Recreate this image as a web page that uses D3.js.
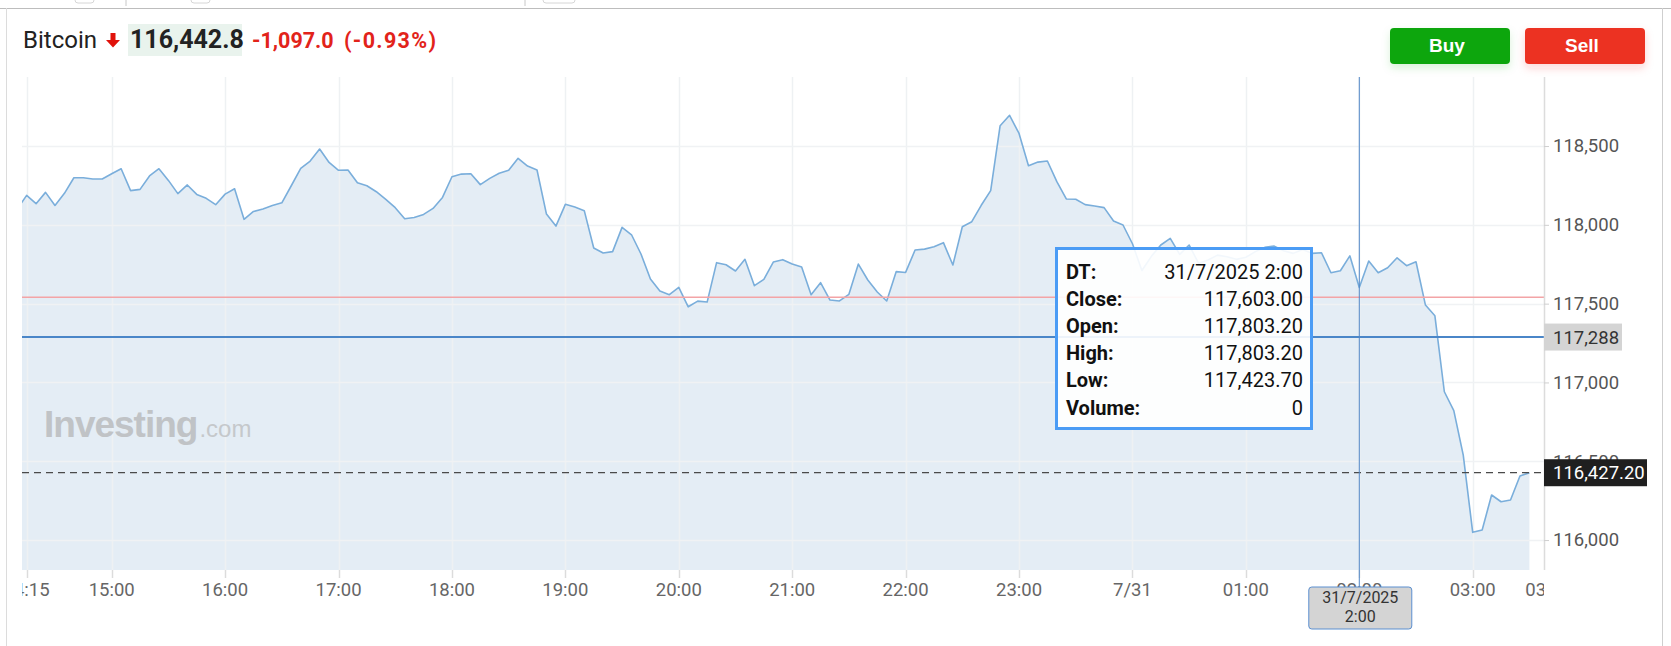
<!DOCTYPE html>
<html><head><meta charset="utf-8">
<script src="https://cdn.jsdelivr.net/npm/d3@7"></script>
<style>
html,body{margin:0;padding:0;background:#fff;overflow:hidden;}
svg{display:block;font-family:Roboto,"Liberation Sans",Arial,sans-serif;}
</style></head><body>
<svg id="chart" width="1671" height="646"></svg>
<script>
// ---------- DATA ----------
const times = [
"14:10","14:15","14:20","14:25","14:30","14:35","14:40","14:45","14:50","14:55",
"15:00","15:05","15:10","15:15","15:20","15:25","15:30","15:35","15:40","15:45","15:50","15:55",
"16:00","16:05","16:10","16:15","16:20","16:25","16:30","16:35","16:40","16:45","16:50","16:55",
"17:00","17:05","17:10","17:15","17:20","17:25","17:30","17:35","17:40","17:45","17:50","17:55",
"18:00","18:05","18:10","18:15","18:20","18:25","18:30","18:35","18:40","18:45","18:50","18:55",
"19:00","19:05","19:10","19:15","19:20","19:25","19:30","19:35","19:40","19:45","19:50","19:55",
"20:00","20:05","20:10","20:15","20:20","20:25","20:30","20:35","20:40","20:45","20:50","20:55",
"21:00","21:05","21:10","21:15","21:20","21:25","21:30","21:35","21:40","21:45","21:50","21:55",
"22:00","22:05","22:10","22:15","22:20","22:25","22:30","22:35","22:40","22:45","22:50","22:55",
"23:00","23:05","23:10","23:15","23:20","23:25","23:30","23:35","23:40","23:45","23:50","23:55",
"00:00","00:05","00:10","00:15","00:20","00:25","00:30","00:35","00:40","00:45","00:50","00:55",
"01:00","01:05","01:10","01:15","01:20","01:25","01:30","01:35","01:40","01:45","01:50","01:55",
"02:00","02:05","02:10","02:15","02:20","02:25","02:30","02:35","02:40","02:45","02:50","02:55",
"03:00","03:05","03:10","03:15","03:20","03:25","03:30"];
const closes = [
118100,118187,118134,118206,118123,118200,118299,118299,118291,118291,
118324,118356,118217,118225,118310,118356,118282,118198,118253,118193,118168,118128,
118195,118229,118035,118085,118100,118123,118140,118248,118358,118405,118481,118396,
118346,118348,118267,118248,118210,118162,118109,118039,118047,118066,118104,118174,
118305,118322,118324,118255,118295,118327,118346,118422,118373,118348,118068,117992,
118130,118113,118090,117853,117821,117830,117984,117937,117815,117656,117580,117557,
117603,117480,117516,117510,117760,117747,117707,117781,117614,117654,117764,117779,
117751,117732,117557,117633,117523,117517,117559,117751,117650,117574,117517,117703,
117698,117840,117846,117861,117887,117745,117988,118020,118124,118217,118629,118695,
118580,118375,118398,118405,118274,118164,118162,118128,118119,118109,118024,117999,
117880,117710,117800,117872,117914,117813,117872,117756,117777,117808,117798,117781,
117794,117830,117857,117865,117836,117819,117844,117819,117823,117696,117709,117803.2,
117603,117770,117696,117728,117791,117741,117766,117491,117423,116941,116821,116539,
116049,116064,116286,116243,116254,116406,116427.2];
const xTickTimes  = ["14:15","15:00","16:00","17:00","18:00","19:00","20:00","21:00","22:00","23:00","00:00","01:00","02:00","03:00","03:40"];
const xTickLabels = ["14:15","15:00","16:00","17:00","18:00","19:00","20:00","21:00","22:00","23:00","7/31","01:00","02:00","03:00","03:40"];
const xDomain = ["14:12:33","03:37:43"];
const yDomain = [115810, 118938];
const yTicks = [116000,116500,117000,117500,118000,118500];
const prevClose = 117539.8;
const levelLine = 117288;
const lastPrice = 116427.20;
const hoverTime = "02:00";
const hoverLabel = ["31/7/2025","2:00"];
const tooltipLabels = ["DT:","Close:","Open:","High:","Low:","Volume:"];
const tooltipValues = ["31/7/2025 2:00","117,603.00","117,803.20","117,803.20","117,423.70","0"];
const title = {name:"Bitcoin", price:"116,442.8", change:"-1,097.0", pct:"(-0.93%)"};

// ---------- HELPERS ----------
function parseT(s){
  const p = s.split(":").map(Number);
  const day = p[0] < 12 ? 31 : 30;
  return new Date(2025, 6, day, p[0], p[1], p[2] || 0);
}
const data = times.map((t,i)=>({t:parseT(t), v:closes[i]}));
const fmt = d3.format(",");

const L = 22, R = 1544, T = 77, B = 570;
const x = d3.scaleTime().domain(xDomain.map(parseT)).range([L, R]);
const y = d3.scaleLinear().domain(yDomain).range([B, T]);

const svg = d3.select("#chart");
const defs = svg.append("defs");
defs.append("clipPath").attr("id","plotClip").append("rect")
  .attr("x",L).attr("y",T).attr("width",R-L).attr("height",B-T);
defs.append("clipPath").attr("id","xlabClip").append("rect")
  .attr("x",L).attr("y",B).attr("width",R-L).attr("height",40);
const fBuy = defs.append("filter").attr("id","shBuy").attr("x","-20%").attr("y","-30%").attr("width","140%").attr("height","180%");
fBuy.append("feDropShadow").attr("dx",0).attr("dy",4).attr("stdDeviation",4).attr("flood-color","#0ea60e").attr("flood-opacity",0.15);
const fSell = defs.append("filter").attr("id","shSell").attr("x","-20%").attr("y","-30%").attr("width","140%").attr("height","180%");
fSell.append("feDropShadow").attr("dx",0).attr("dy",4).attr("stdDeviation",4).attr("flood-color","#ec3324").attr("flood-opacity",0.18);

// ---------- FRAME ----------
[[75,94],[191,210],[543,575]].forEach(([a,b])=>{
  svg.append("rect").attr("x",a).attr("y",-10).attr("width",b-a).attr("height",13).attr("rx",3)
    .attr("fill","none").attr("stroke","#d6d6d6");
});
[126,525].forEach(xx=>svg.append("line").attr("x1",xx).attr("x2",xx).attr("y1",0).attr("y2",6).attr("stroke","#c8c8c8"));
svg.append("line").attr("x1",0).attr("x2",1671).attr("y1",8.5).attr("y2",8.5).attr("stroke","#bdbdbd");
svg.append("line").attr("x1",6.5).attr("x2",6.5).attr("y1",8).attr("y2",646).attr("stroke","#dcdcdc");
svg.append("line").attr("x1",1662.5).attr("x2",1662.5).attr("y1",8).attr("y2",646).attr("stroke","#cfcfcf");

// ---------- TITLE ----------
svg.append("text").attr("x",23).attr("y",48).attr("font-size",24).attr("fill","#222").text(title.name);
svg.append("path").attr("d","M110.5,33 H115.5 V40 H120 L113,47.5 L106,40 H110.5 Z").attr("fill","#e0120b");
svg.append("rect").attr("x",128).attr("y",24).attr("width",114).attr("height",32).attr("fill","#e9f3ed");
svg.append("text").attr("x",130).attr("y",48).attr("font-size",25).attr("font-weight",700).attr("fill","#222").text(title.price);
svg.append("text").attr("x",252).attr("y",48).attr("font-size",21.5).attr("font-weight",700).attr("fill","#e2231a").text(title.change);
svg.append("text").attr("x",344).attr("y",48).attr("font-size",21.5).attr("font-weight",700).attr("fill","#e2231a")
  .attr("textLength",92).attr("lengthAdjust","spacing").text(title.pct);

// ---------- BUTTONS ----------
svg.append("rect").attr("x",1390).attr("y",28).attr("width",120).attr("height",36).attr("rx",4).attr("fill","#0ea60e").attr("filter","url(#shBuy)");
svg.append("text").attr("x",1447).attr("y",52).attr("text-anchor","middle").attr("font-family","'Liberation Sans',Arial,sans-serif")
  .attr("font-size",19).attr("font-weight",700).attr("fill","#fff").text("Buy");
svg.append("rect").attr("x",1525).attr("y",28).attr("width",120).attr("height",36).attr("rx",4).attr("fill","#ec3324").attr("filter","url(#shSell)");
svg.append("text").attr("x",1582).attr("y",52).attr("text-anchor","middle").attr("font-family","'Liberation Sans',Arial,sans-serif")
  .attr("font-size",19).attr("font-weight",700).attr("fill","#fff").text("Sell");

// ---------- PLOT ----------
const plot = svg.append("g").attr("clip-path","url(#plotClip)");
plot.append("path").datum(data)
  .attr("d", d3.area().x(d=>x(d.t)).y0(B).y1(d=>y(d.v)))
  .attr("fill","#e4edf5");
// grid
const gx = xTickTimes.slice(0,-1).map(parseT);
plot.selectAll(".vg").data(gx).enter().append("line")
  .attr("x1",d=>Math.round(x(d))+0.5).attr("x2",d=>Math.round(x(d))+0.5).attr("y1",T).attr("y2",B)
  .attr("stroke","#eef1f3").attr("stroke-width",1.5);
plot.selectAll(".hg").data(yTicks).enter().append("line")
  .attr("x1",L).attr("x2",R).attr("y1",d=>Math.round(y(d))+0.5).attr("y2",d=>Math.round(y(d))+0.5)
  .attr("stroke","#f0f2f4").attr("stroke-width",1.5);
// watermark
const wm = plot.append("text").attr("x",44).attr("y",437).attr("font-family","'Liberation Sans',Arial,sans-serif");
wm.append("tspan").attr("font-size",37).attr("font-weight",700).attr("fill","#c0c3c6").attr("letter-spacing",-1).text("Investing");
wm.append("tspan").attr("font-size",24).attr("fill","#c5c8cb").attr("dx",2).text(".com");
// line
plot.append("path").datum(data)
  .attr("d", d3.line().x(d=>x(d.t)).y(d=>y(d.v)))
  .attr("fill","none").attr("stroke","#7aaedb").attr("stroke-width",1.6).attr("stroke-linejoin","round");
// reference lines
plot.append("line").attr("x1",L).attr("x2",R).attr("y1",y(prevClose)).attr("y2",y(prevClose))
  .attr("stroke","#f3a4a6").attr("stroke-width",1.5);
plot.append("line").attr("x1",L).attr("x2",R).attr("y1",y(levelLine)).attr("y2",y(levelLine))
  .attr("stroke","#4a86c8").attr("stroke-width",2);
plot.append("line").attr("x1",L).attr("x2",R).attr("y1",y(lastPrice)).attr("y2",y(lastPrice))
  .attr("stroke","#4a4a4a").attr("stroke-width",1.3).attr("stroke-dasharray","7,5");

// ---------- Y AXIS ----------
svg.append("line").attr("x1",R+0.5).attr("x2",R+0.5).attr("y1",T).attr("y2",B).attr("stroke","#dcdcdc").attr("stroke-width",1.5);
const ya = svg.append("g").attr("transform",`translate(${R},0)`)
  .call(d3.axisRight(y).tickValues(yTicks).tickFormat(fmt).tickSize(5).tickPadding(4));
ya.select(".domain").remove();
ya.selectAll("line").attr("stroke","#cfcfcf");
ya.selectAll("text").attr("font-size",18.5).attr("fill","#555").attr("font-family","Roboto,sans-serif");

// tags
function tag(v, label, bg, fg, w){
  const yy = y(v);
  svg.append("rect").attr("x",R).attr("y",yy-13.5).attr("width",w).attr("height",27).attr("fill",bg);
  svg.append("text").attr("x",R+9).attr("y",yy).attr("dy","0.35em").attr("font-size",18.5).attr("fill",fg).text(label);
}
tag(levelLine, fmt(levelLine), "#d4d4d4", "#333", 78);
tag(lastPrice, d3.format(",.2f")(lastPrice), "#1f1f1f", "#fff", 103);

// ---------- X AXIS ----------
const tx = xTickTimes.map(parseT);
svg.selectAll(".xt").data(tx.slice(0,-1)).enter().append("line")
  .attr("x1",d=>Math.round(x(d))+0.5).attr("x2",d=>Math.round(x(d))+0.5).attr("y1",B).attr("y2",B+8)
  .attr("stroke","#dcdcdc").attr("stroke-width",1.5);
svg.append("g").attr("clip-path","url(#xlabClip)").selectAll("text").data(tx).enter().append("text")
  .attr("x",d=>x(d)).attr("y",590).attr("dy","0.35em").attr("text-anchor","middle")
  .attr("font-size",18.5).attr("fill","#666").text((d,i)=>xTickLabels[i]);

// crosshair
const hx = x(parseT(hoverTime));
svg.append("line").attr("x1",hx).attr("x2",hx).attr("y1",T).attr("y2",587).attr("stroke","#4f86c6").attr("stroke-width",1);
svg.append("rect").attr("x",hx-50.5).attr("y",587).attr("width",103).attr("height",42).attr("rx",3)
  .attr("fill","#d4d4d4").attr("stroke","#5b8fd0");
hoverLabel.forEach((s,i)=>svg.append("text").attr("x",hx+1).attr("y",603+i*19).attr("text-anchor","middle")
  .attr("font-size",16).attr("fill","#333").text(s));

// ---------- TOOLTIP ----------
svg.append("rect").attr("x",1056.5).attr("y",248.5).attr("width",255).attr("height",180)
  .attr("fill","rgba(255,255,255,0.9)").attr("stroke","#4b9cf5").attr("stroke-width",3);
tooltipLabels.forEach((s,i)=>{
  svg.append("text").attr("x",1066).attr("y",278.5+i*27.2).attr("font-size",20).attr("font-weight",700).attr("fill","#111").text(s);
  svg.append("text").attr("x",1303).attr("y",278.5+i*27.2).attr("text-anchor","end").attr("font-size",20).attr("fill","#111").text(tooltipValues[i]);
});
</script>
</body></html>
